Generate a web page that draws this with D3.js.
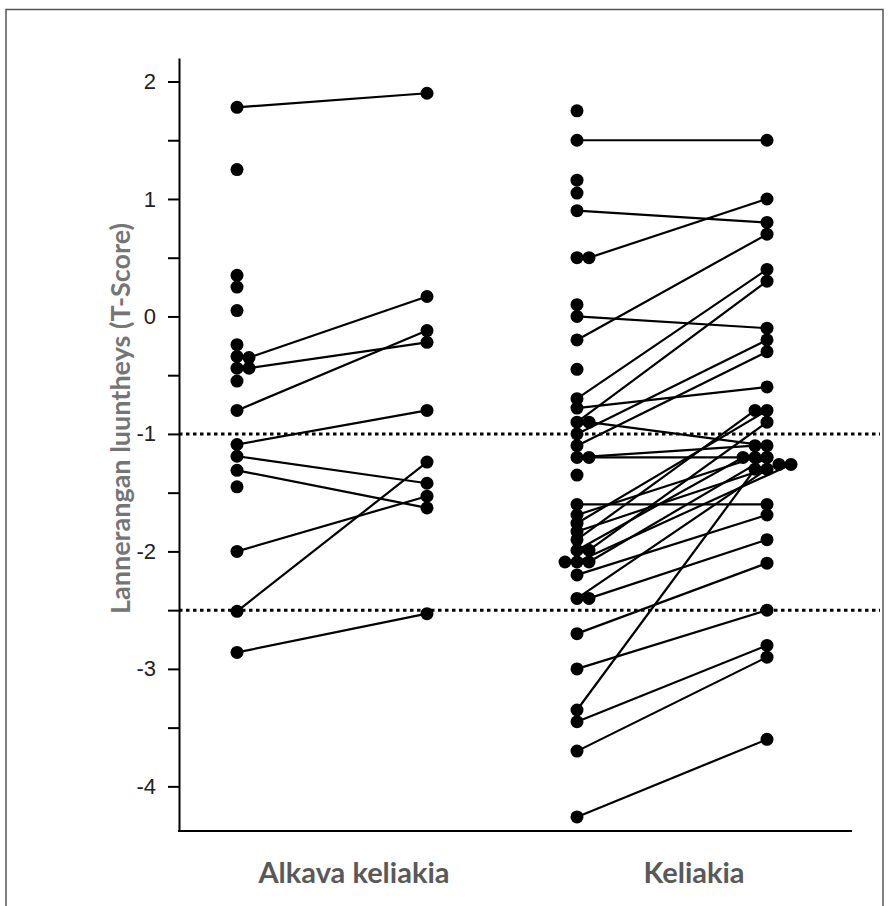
<!DOCTYPE html>
<html>
<head>
<meta charset="utf-8">
<script src="https://cdn.jsdelivr.net/npm/d3@7"></script>
<style>
  body { margin: 0; background: #fff; }
</style>
</head>
<body>
<script>
// groups and the before / after T-scores for each subject (null = no follow-up)
groups = ["Alkava keliakia", "Keliakia"]
phases = ["before", "after"]
refLines = [-1, -2.5]
yTicks = d3.range(-4, 2.01, 0.5)

g1Before = [1.78, 1.25, 0.35, 0.25, 0.05, -0.24, -0.34, -0.44, -0.55, -0.35, -0.44, -0.8,
  -1.09, -1.19, -1.31, -1.45, -2.0, -2.51, -2.86]
g1After = [1.9, null, null, null, null, null, null, null, null, 0.17, -0.22, -0.12,
  -0.8, -1.42, -1.63, null, -1.53, -1.24, -2.53]

g2Before = [1.75, 1.5, 1.16, 1.05, 0.9, 0.5, 0.5, 0.1, 0.0, -0.2, -0.45, -0.7, -0.78,
  -0.9, -0.9, -1.0, -1.1, -1.2, -1.2, -1.35, -1.6, -1.69, -1.76, -1.83, -1.9, -1.99,
  -1.99, -2.09, -2.09, -2.09, -2.2, -2.4, -2.4, -2.7, -3.0, -3.35, -3.45, -3.7, -4.26]
g2After = [null, 1.5, null, null, 0.8, null, 1.0, null, -0.1, 0.7, null, 0.4, -0.6,
  0.3, -1.1, -0.2, -0.3, -1.1, -1.2, null, -1.6, -1.2, -0.8, -1.26, -0.8, -1.2,
  -0.9, -1.26, -1.2, null, -1.69, -1.3, -1.9, -2.1, -2.5, -1.3, -2.8, -2.9, -3.6]

width = 888
height = 906
margin = ({top: 58, right: 36, bottom: 75, left: 179})
labelFont = "Lato, 'Open Sans', sans-serif"
r = 6.5

y = d3.scaleLinear()
    .domain([-4.38, 2.2])
    .range([height - margin.bottom, margin.top])

x0 = d3.scalePoint()
    .domain(groups)
    .range([332, 672])

x1 = d3.scalePoint()
    .domain(phases)
    .range([-95, 95])

yAxis = g => g
    .attr("transform", `translate(${margin.left},0)`)
    .call(d3.axisLeft(y)
        .tickValues(yTicks)
        .tickFormat(d => Number.isInteger(d) ? String(d) : "")
        .tickSize(11)
        .tickSizeOuter(0)
        .tickPadding(12))
    .call(g => g.selectAll("path, line").attr("stroke", "#000").attr("stroke-width", 2))
    .call(g => g.selectAll("text")
        .attr("font-family", "Arial, 'Liberation Sans', sans-serif")
        .attr("font-size", 22)
        .attr("fill", "#222"))

// build subjects; push overlapping markers sideways like the original plot
const slotStep = 12
function dodge(values, order) {
  const placed = []
  return values.map(v => {
    if (v == null) return 0
    const py = y(v)
    for (const s of order) {
      if (!placed.some(p => p.s === s && Math.abs(p.y - py) < 8)) {
        placed.push({s, y: py})
        return s * slotStep
      }
    }
    return 0
  })
}

subjects = []
;[[g1Before, g1After], [g2Before, g2After]].forEach(([b, a], gi) => {
  const db = dodge(b, [0, 1, -1, 2, -2])
  const da = dodge(a, [0, -1, 1, -2, 2])
  b.forEach((v, i) => subjects.push({group: groups[gi], before: v, after: a[i], db: db[i], da: da[i]}))
})

const svg = d3.select("body").append("svg")
    .attr("width", width)
    .attr("height", height)
    .attr("viewBox", [0, 0, width, height])

// outer frame
svg.append("rect")
    .attr("x", 6).attr("y", 9.5)
    .attr("width", 877).attr("height", 920)
    .attr("fill", "none")
    .attr("stroke", "#555")
    .attr("stroke-width", 1.5)

// reference lines
svg.append("g")
  .selectAll("line")
  .data(refLines)
  .join("line")
    .attr("x1", margin.left).attr("x2", 880)
    .attr("y1", d => y(d)).attr("y2", d => y(d))
    .attr("stroke", "#000")
    .attr("stroke-width", 3)
    .attr("stroke-dasharray", "3.5,3.5")

svg.append("g").call(yAxis)

// x axis line
svg.append("line")
    .attr("x1", margin.left - 1).attr("x2", width - margin.right)
    .attr("y1", y.range()[0]).attr("y2", y.range()[0])
    .attr("stroke", "#000")
    .attr("stroke-width", 2)

const px = (d, p) => x0(d.group) + x1(p) + (p === "before" ? d.db : d.da)

svg.append("g")
  .selectAll("line")
  .data(subjects.filter(d => d.after != null))
  .join("line")
    .attr("x1", d => px(d, "before")).attr("y1", d => y(d.before))
    .attr("x2", d => px(d, "after")).attr("y2", d => y(d.after))
    .attr("stroke", "#000")
    .attr("stroke-width", 2.2)

const dots = subjects.flatMap(d => phases
    .filter(p => d[p] != null)
    .map(p => ({x: px(d, p), v: d[p]})))

svg.append("g")
  .selectAll("circle")
  .data(dots)
  .join("circle")
    .attr("cx", d => d.x)
    .attr("cy", d => y(d.v))
    .attr("r", r)
    .attr("fill", "#000")

// group labels
svg.append("g")
  .selectAll("text")
  .data(groups)
  .join("text")
    .attr("x", d => x0(d) + 22)
    .attr("y", 883)
    .attr("text-anchor", "middle")
    .attr("font-family", labelFont)
    .attr("font-weight", "bold")
    .attr("font-size", 29)
    .attr("fill", "#595959")
    .text(d => d)

svg.append("text")
    .attr("transform", `translate(119,${(y.range()[0] + y.range()[1]) / 2 - 26}) rotate(-90)`)
    .attr("text-anchor", "middle")
    .attr("dominant-baseline", "central")
    .attr("font-family", labelFont)
    .attr("font-weight", "bold")
    .attr("font-size", 27)
    .attr("fill", "#757575")
    .text("Lannerangan luuntheys (T-Score)")
</script>
</body>
</html>
